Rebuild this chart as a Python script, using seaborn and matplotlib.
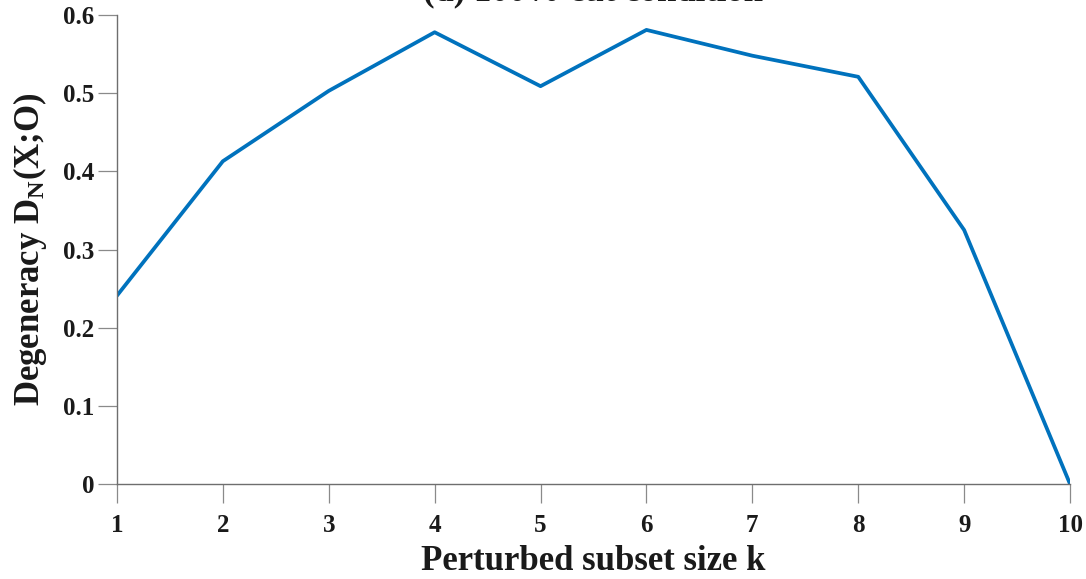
import matplotlib
matplotlib.use("Agg")
import matplotlib.pyplot as plt
import seaborn as sns
import pandas as pd

# Degeneracy vs perturbed subset size
subset_size = [1, 2, 3, 4, 5, 6, 7, 8, 9, 10]
degeneracy = [0.241, 0.413, 0.503, 0.578, 0.509, 0.581, 0.548, 0.521, 0.325, 0.0]
x_ticks = [1, 2, 3, 4, 5, 6, 7, 8, 9, 10]
y_ticks = [0, 0.1, 0.2, 0.3, 0.4, 0.5, 0.6]
y_tick_labels = ["0", "0.1", "0.2", "0.3", "0.4", "0.5", "0.6"]

sns.set_theme(style="white")
plt.rcParams["font.family"] = ["Liberation Serif", "DejaVu Serif"]
plt.rcParams["font.weight"] = "bold"
plt.rcParams["mathtext.fontset"] = "custom"
plt.rcParams["mathtext.rm"] = "Liberation Serif:bold"
plt.rcParams["mathtext.it"] = "Liberation Serif:bold"
plt.rcParams["mathtext.bf"] = "Liberation Serif:bold"

df = pd.DataFrame({"k": subset_size, "D": degeneracy})

fig = plt.figure(figsize=(10.86, 5.79), dpi=100)
ax = fig.add_axes([0.1077, 0.164, 0.8776, 0.810])

sns.lineplot(data=df, x="k", y="D", ax=ax, color="#0072BD", linewidth=2.7)

ax.set_xlim(1, 10)
ax.set_ylim(0, 0.6)
ax.set_xticks(x_ticks)
ax.set_xticklabels([str(v) for v in x_ticks])
ax.set_yticks(y_ticks)
ax.set_yticklabels(y_tick_labels)

for side in ["top", "right"]:
    ax.spines[side].set_visible(False)
for side in ["left", "bottom"]:
    ax.spines[side].set_color("#6e6e6e")
    ax.spines[side].set_linewidth(1.0)

ax.tick_params(axis="both", which="major", direction="out", length=13.5, width=0.9,
               color="#8a8a8a", labelsize=18, labelcolor="#1a1a1a",
               bottom=True, left=True, top=False, right=False)
ax.tick_params(axis="x", pad=8)
ax.tick_params(axis="y", pad=3)
for lbl in ax.get_xticklabels() + ax.get_yticklabels():
    lbl.set_fontweight("bold")

ax.set_xlabel("Perturbed subset size k", fontsize=25, fontweight="bold",
              labelpad=6, color="#1a1a1a")
ax.set_ylabel(r"Degeneracy D$_{\mathrm{N}}$(X;O)", fontsize=25, fontweight="bold",
              labelpad=10, color="#1a1a1a")

# Panel title sits at the very top edge of the figure
ax.text(0.5, 1.014, "(d) 100% cut condition", transform=ax.transAxes,
        ha="center", va="bottom", fontsize=25, fontweight="bold", color="#1a1a1a")

fig.savefig("out.png", dpi=100)
